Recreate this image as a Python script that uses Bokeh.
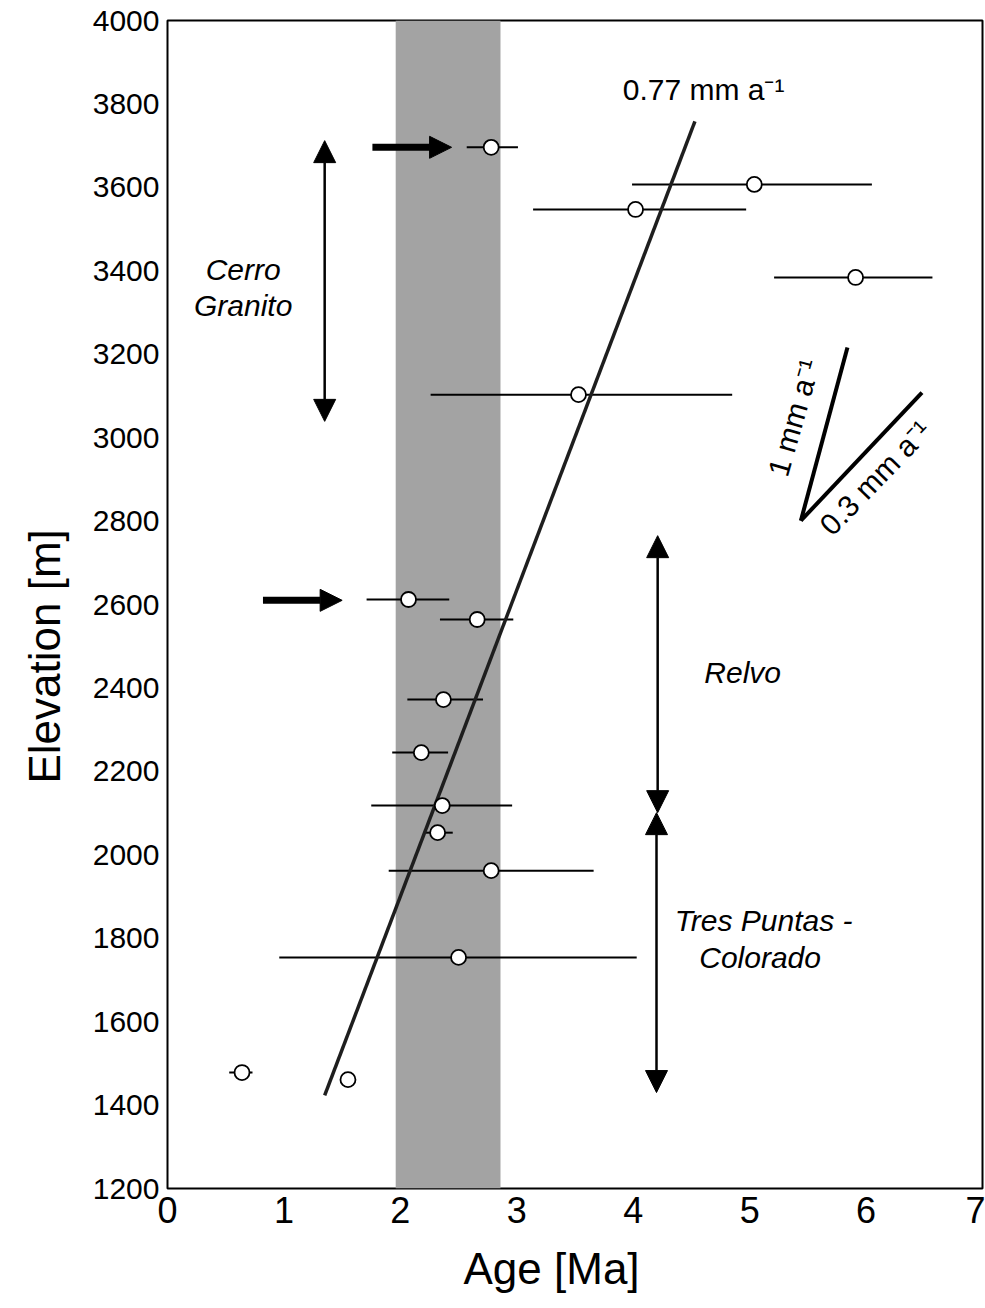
import math
from bokeh.plotting import figure
from bokeh.models import Range1d, FixedTicker, BoxAnnotation, Arrow, NormalHead, ColumnDataSource, Title
from bokeh.core.properties import value
from bokeh.embed import file_html
from bokeh.resources import INLINE

# ---- data ----
age = [2.78, 5.04, 4.02, 5.91, 3.53, 2.07, 2.66, 2.37, 2.18, 2.36, 2.32, 2.78, 2.50, 0.64, 1.55]
elev = [3696, 3607, 3547, 3384, 3103, 2612, 2564, 2372, 2245, 2118, 2053, 1962, 1754, 1478, 1461]
age_lo = [2.57, 3.99, 3.14, 5.21, 2.26, 1.71, 2.34, 2.06, 1.93, 1.75, 2.20, 1.90, 0.96, 0.53, 1.55]
age_hi = [3.01, 6.05, 4.97, 6.57, 4.85, 2.42, 2.97, 2.71, 2.41, 2.96, 2.45, 3.66, 4.03, 0.73, 1.55]

reg_age = [1.35, 4.53]
reg_elev = [1423, 3758]

band_age = [1.96, 2.86]

# reference slopes (1 mm/a and 0.3 mm/a)
slope_x0 = [5.44, 5.44]
slope_y0 = [2801, 2801]
slope_x1 = [5.84, 6.48]
slope_y1 = [3216, 3108]
slope_text = ["1 mm a\u207b\u00b9", "0.3 mm a\u207b\u00b9"]
slope_text_x = [5.38, 6.08]
slope_text_y = [3048, 2904]
slope_text_angle_deg = [74, 46]

# thick arrows marking samples
mark_x0 = [1.76, 0.82]
mark_x1 = [2.44, 1.50]
mark_y = [3696, 2610]

# unit ranges (double arrows)
unit_x = [1.35, 4.21, 4.20]
unit_y0 = [3712, 2765, 2101]
unit_y1 = [3039, 2101, 1430]

unit_text = ["Cerro", "Granito", "Relvo", "Tres Puntas -", "Colorado"]
unit_text_x = [0.65, 0.65, 4.94, 5.12, 5.09]
unit_text_y = [3403, 3317, 2437, 1842, 1754]

rate_text = ["0.77 mm a\u207b\u00b9"]
rate_text_x = [3.91]
rate_text_y = [3835]

x_ticks = [0, 1, 2, 3, 4, 5, 6, 7]
y_ticks = list(range(1200, 4001, 200))

x_title = "Age [Ma]"
y_title = "Elevation [m]"

FONT = "Liberation Sans"

p = figure(width=985, height=1308, x_range=Range1d(0, 7), y_range=Range1d(1200, 4000),
           output_backend="svg", toolbar_location=None,
           min_border_left=167, min_border_right=3, min_border_top=20, min_border_bottom=120,
           background_fill_color="white", border_fill_color="white")
p.grid.visible = False
p.outline_line_color = "black"
p.outline_line_width = 2
p.xaxis.ticker = FixedTicker(ticks=x_ticks)
p.yaxis.ticker = FixedTicker(ticks=y_ticks)
p.axis.major_tick_line_color = None
p.axis.minor_tick_line_color = None
p.axis.major_tick_out = 0
p.axis.major_tick_in = 0
p.axis.axis_line_color = None
p.axis.major_label_text_font = FONT
p.axis.major_label_text_color = "black"
p.yaxis.major_label_text_font_size = "30px"
p.xaxis.major_label_text_font_size = "36px"
p.yaxis.major_label_standoff = 8
p.xaxis.major_label_standoff = 8

# axis titles as side-panel titles so they can be shifted like in the reference
p.add_layout(Title(text=y_title, align="left", vertical_align="top", offset=405, text_font=FONT,
                   text_font_size="44px", text_font_style="normal", text_color="black",
                   standoff=37), "left")
p.add_layout(Title(text=x_title, align="left", offset=296, text_font=FONT,
                   text_font_size="44px", text_font_style="normal", text_color="black",
                   standoff=32), "below")

p.add_layout(BoxAnnotation(left=band_age[0], right=band_age[1], fill_color="#a3a3a3",
                           fill_alpha=1.0, line_color=None, level="underlay"))

p.segment(x0=age_lo, y0=elev, x1=age_hi, y1=elev, line_color="black", line_width=2)
p.line(reg_age, reg_elev, line_color="#1e1e1e", line_width=3.5)
p.segment(x0=slope_x0, y0=slope_y0, x1=slope_x1, y1=slope_y1, line_color="black", line_width=4)
p.scatter(age, elev, marker="circle", size=15, fill_color="white", line_color="black", line_width=1.8)

mark_src = ColumnDataSource(dict(x0=mark_x0, x1=mark_x1, y=mark_y))
p.add_layout(Arrow(end=NormalHead(size=22, fill_color="black", line_color="black"),
                   x_start="x0", y_start="y", x_end="x1", y_end="y", source=mark_src,
                   line_width=7, line_color="black"))

unit_src = ColumnDataSource(dict(x=unit_x, y0=unit_y0, y1=unit_y1))
p.add_layout(Arrow(start=NormalHead(size=22, fill_color="black", line_color="black"),
                   end=NormalHead(size=22, fill_color="black", line_color="black"),
                   x_start="x", y_start="y0", x_end="x", y_end="y1", source=unit_src,
                   line_width=2.5, line_color="black"))

p.text(x=unit_text_x, y=unit_text_y, text=unit_text, text_font=value(FONT),
       text_font_size="30px", text_font_style="italic", text_align="center",
       text_baseline="middle", text_color="black")
p.text(x=rate_text_x, y=rate_text_y, text=rate_text, text_font=value(FONT),
       text_font_size="30px", text_align="left", text_baseline="middle", text_color="black")
p.text(x=slope_text_x, y=slope_text_y, text=slope_text,
       angle=[math.radians(a) for a in slope_text_angle_deg], text_font=value(FONT),
       text_font_size="30px", text_align="center", text_baseline="middle", text_color="black")

open("out.html", "w").write(file_html(p, INLINE))
